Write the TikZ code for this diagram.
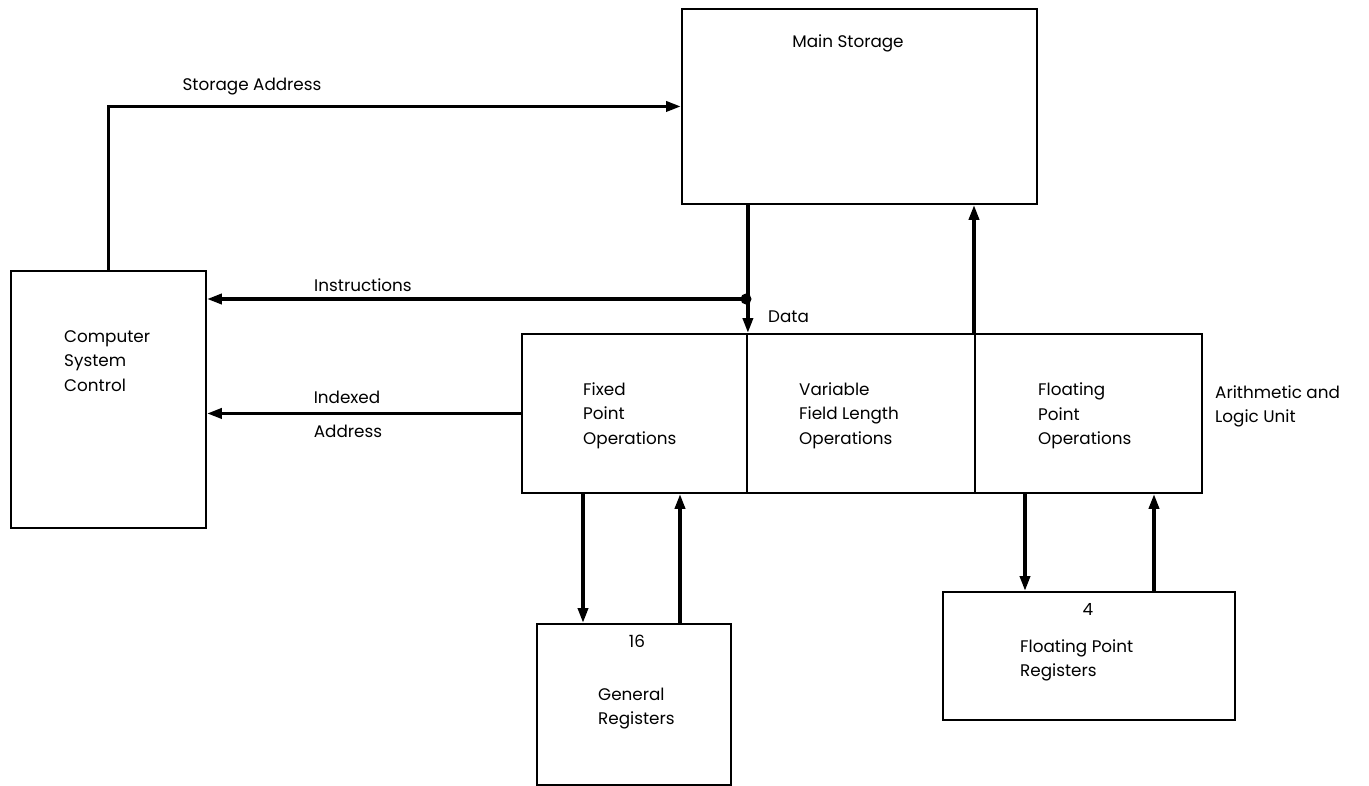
\documentclass[tikz,border=0pt]{standalone}
\usepackage{fontspec}
\setmainfont{Poppins}
\usetikzlibrary{arrows.meta}
\begin{document}
\begin{tikzpicture}[x=1pt,y=-1pt,
  every node/.style={font=\fontsize{16.8}{24.5}\selectfont, inner sep=0pt},
  unit/.style={draw, line width=1.9pt, minimum width=#1, anchor=north west},
  bus/.style={line width=3.6pt, -{Triangle[length=15pt,width=10pt]}},
  txt/.style={align=left, anchor=west},
  ctxt/.style={align=center}]
\useasboundingbox (0,0) rectangle (1369,785);

% functional units
\node[unit=195pt, minimum height=257pt] (cpu) at (10,270) {};
\node[unit=355pt, minimum height=195pt] (mem) at (681,8) {};
\node[unit=225pt, minimum height=159pt] (fixed) at (521,333) {};
\node[unit=228pt, minimum height=159pt] (vfl) at (746,333) {};
\node[unit=227pt, minimum height=159pt] (flp) at (974,333) {};
\node[unit=194pt, minimum height=161pt] (gpr) at (536,623) {};
\node[unit=292pt, minimum height=128pt] (fpr) at (942,591) {};

% texts inside the units
\node[txt] (cpuT) at (64,361) {Computer\\System\\Control};
\node[ctxt] (memT) at (848,43) {Main Storage};
\node[txt] (fixedT) at (583,415.5) {Fixed\\Point\\Operations};
\node[txt] (vflT) at (799,415.5) {Variable\\Field Length\\Operations};
\node[txt] (flpT) at (1038,416) {Floating\\Point\\Operations};
\node[txt] (aluT) at (1215,406.5) {Arithmetic and\\Logic Unit};
\node[ctxt] (gprN) at (637,641) {16};
\node[txt] (gprT) at (598,708.5) {General\\Registers};
\node[ctxt] (fprN) at (1088,609) {4};
\node[txt] (fprT) at (1020,660.5) {Floating Point\\Registers};

% storage address path
\draw[bus] (cpu.north) |- (mem.west);
\node[ctxt] (saL) at (252,87) {Storage Address};

% data out of main storage, tapped for instructions
\coordinate (tap) at (746,299);
\draw[bus] (mem.south -| fixed.north east) -- (fixed.north east);
\fill (tap) circle (5.5pt);
\draw[bus] (tap) -- (tap -| cpu.east);
\node[ctxt] (insL) at (363,285) {Instructions};
\node[txt] (dataL) at (768,317) {Data};

% results back into main storage
\draw[bus] (flp.north west) -- (flp.north west |- mem.south);

% indexed address
\draw[bus] (fixed.west) -- (fixed.west -| cpu.east);
\node[ctxt] (idxL) at (347,397) {Indexed};
\node[ctxt] (adrL) at (348,431) {Address};

% general registers
\coordinate (g1) at (583,0);
\coordinate (g2) at (680,0);
\draw[bus] (fixed.south -| g1) -- (gpr.north -| g1);
\draw[bus] (gpr.north -| g2) -- (fixed.south -| g2);

% floating point registers
\coordinate (f1) at (1025,0);
\coordinate (f2) at (1154,0);
\draw[bus] (flp.south -| f1) -- (fpr.north -| f1);
\draw[bus] (fpr.north -| f2) -- (flp.south -| f2);
\end{tikzpicture}
\end{document}
